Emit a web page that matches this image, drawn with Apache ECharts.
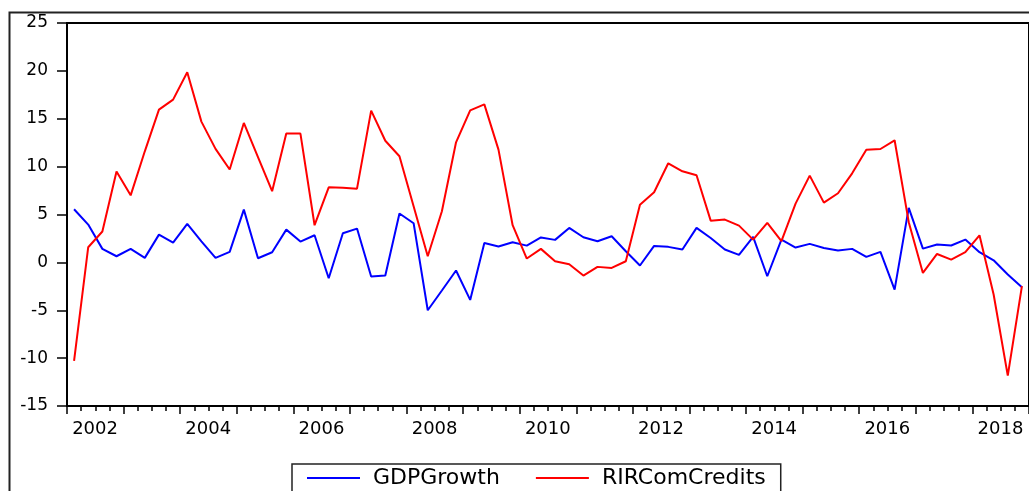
<!DOCTYPE html>
<html>
<head>
<meta charset="utf-8">
<script src="https://cdn.jsdelivr.net/npm/echarts/dist/echarts.min.js"></script>
<style>
  html, body { margin: 0; padding: 0; background: #fff; }
  #main { width: 1029px; height: 491px; }
</style>
</head>
<body>
<div id="main"></div>
<script>
// quarterly, 2002Q1 .. 2018Q4
const years = [2002, 2003, 2004, 2005, 2006, 2007, 2008, 2009, 2010,
  2011, 2012, 2013, 2014, 2015, 2016, 2017, 2018];
const quarters = ['Q1', 'Q2', 'Q3', 'Q4'];

const gdpGrowth = [
  5.55, 3.95, 1.41, 0.64, 1.41, 0.47, 2.9, 2.07, 4.02, 2.2, 0.47, 1.1,
  5.51, 0.43, 1.06, 3.42, 2.17, 2.83, -1.66, 3.04, 3.53, -1.48, -1.38, 5.1,
  4.09, -5.0, -2.94, -0.85, -3.92, 2.03, 1.65, 2.1, 1.75, 2.6, 2.35, 3.6,
  2.62, 2.21, 2.73, 1.16, -0.33, 1.72, 1.62, 1.34, 3.6, 2.55, 1.34, 0.78,
  2.66, -1.45, 2.38, 1.55, 1.93, 1.51, 1.23, 1.41, 0.57, 1.1, -2.84, 5.69,
  1.44, 1.86, 1.76, 2.38, 1.06, 0.22, -1.27, -2.6
];

const rirComCredits = [
  -10.3, 1.58, 3.22, 9.48, 7.0, 11.6, 15.95, 17.0, 19.85, 14.7, 11.85, 9.7,
  14.56, 11.0, 7.43, 13.45, 13.45, 3.88, 7.84, 7.8, 7.7, 15.85, 12.7, 11.08,
  5.86, 0.64, 5.34, 12.54, 15.88, 16.5, 11.78, 3.88, 0.4, 1.41, 0.12, -0.19,
  -1.38, -0.47, -0.58, 0.12, 6.03, 7.32, 10.35, 9.51, 9.1, 4.36, 4.47, 3.84,
  2.38, 4.12, 2.21, 6.14, 9.06, 6.24, 7.22, 9.3, 11.77, 11.84, 12.75, 4.2,
  -1.1, 0.88, 0.29, 1.06, 2.83, -3.36, -11.82, -2.49
];

const yTicks = { min: -15, max: 25, step: 5 };

const categories = [];
years.forEach(y => quarters.forEach(q => categories.push(y + q)));

const chart = echarts.init(document.getElementById('main'), null, { renderer: 'canvas' });

const font = 'DejaVu Sans';

chart.setOption({
  animation: false,
  backgroundColor: '#fff',
  graphic: [{
    type: 'rect',
    left: 7, top: 10,
    shape: { width: 1100, height: 600 },
    style: { fill: 'none', stroke: '#222', lineWidth: 2 },
    silent: true, z: -1
  }],
  grid: {
    left: 67, top: 23, width: 963, height: 383,
    show: true, borderColor: '#000', borderWidth: 2,
    containLabel: false
  },
  legend: {
    left: 292, top: 464,
    data: ['GDPGrowth', 'RIRComCredits'],
    icon: 'rect',
    itemWidth: 53, itemHeight: 2, itemGap: 36,
    padding: [3, 15, 10, 15],
    borderColor: '#222', borderWidth: 1.5,
    backgroundColor: '#fff',
    textStyle: { fontFamily: font, fontSize: 22, color: '#000', padding: [0, 0, 0, 8] }
  },
  xAxis: [{
    type: 'category',
    data: categories,
    boundaryGap: true,
    axisLine: { show: true, onZero: false, lineStyle: { color: '#000', width: 2 } },
    axisTick: {
      show: true, inside: false,
      length: 8, lineStyle: { color: '#000', width: 1.5 },
      interval: (i) => i % 4 === 0
    },
    axisLabel: {
      interval: (i) => i % 8 === 0,
      formatter: (v) => v.slice(0, 4),
      fontFamily: font, fontSize: 18, color: '#000',
      margin: 14,
      align: 'center',
      padding: [0, 0, 0, 42]
    },
    splitLine: { show: false }
  }, {
    type: 'category',
    data: categories,
    boundaryGap: true,
    position: 'bottom',
    axisLine: { show: false, onZero: false },
    axisTick: {
      show: true, inside: false, length: 5, interval: 0,
      lineStyle: { color: '#000', width: 1.5 }
    },
    axisLabel: { show: false },
    splitLine: { show: false }
  }],
  yAxis: {
    type: 'value',
    min: yTicks.min, max: yTicks.max, interval: yTicks.step,
    axisLine: { show: true, onZero: false, lineStyle: { color: '#000', width: 2 } },
    axisTick: { show: true, length: 10, lineStyle: { color: '#000', width: 1.5 } },
    axisLabel: { fontFamily: font, fontSize: 17, color: '#000', margin: 19 },
    splitLine: { show: false }
  },
  series: [{
    name: 'GDPGrowth',
    type: 'line',
    data: gdpGrowth,
    symbol: 'none',
    color: '#0000ff',
    lineStyle: { width: 2, color: '#0000ff' }
  }, {
    name: 'RIRComCredits',
    type: 'line',
    data: rirComCredits,
    symbol: 'none',
    color: '#ff0000',
    lineStyle: { width: 2, color: '#ff0000' }
  }]
});
</script>
</body>
</html>
